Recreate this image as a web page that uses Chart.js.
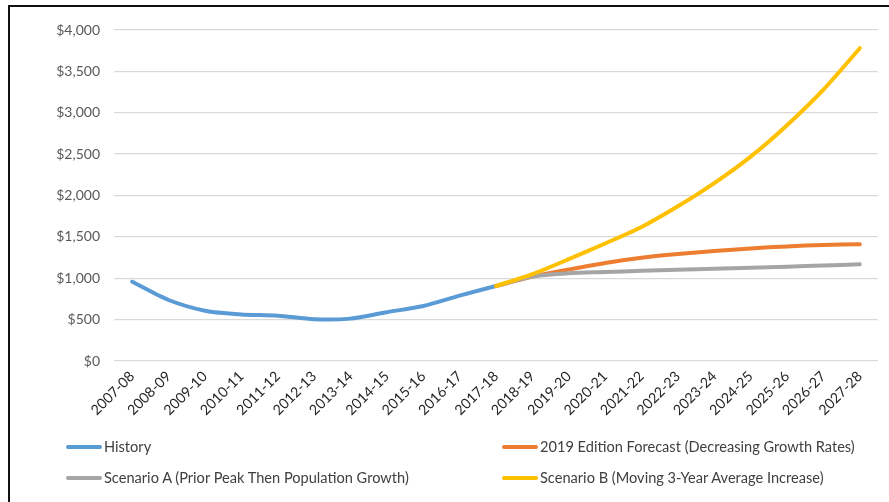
<!DOCTYPE html>
<html>
<head>
<meta charset="utf-8">
<script src="https://cdn.jsdelivr.net/npm/chart.js@4"></script>
<style>
  html, body { margin: 0; padding: 0; background: #fff; }
  #wrap { position: absolute; left: 0; top: 0; width: 889px; height: 502px; }
  .edge-top { position: absolute; left: 8px; top: 5px; width: 881px; height: 2px; background: #111; }
  .edge-left { position: absolute; left: 8px; top: 5px; width: 2px; height: 497px; background: #111; }
  #legend { position: absolute; left: 0; top: 0; width: 889px; height: 502px; pointer-events: none;
            font-family: Lato, "Open Sans", sans-serif; font-size: 14.6px; color: #404040; }
  #legend .item { position: absolute; white-space: nowrap; line-height: 16px; }
  #legend .swatch { display: inline-block; width: 36px; height: 4px; border-radius: 2px;
                    vertical-align: middle; margin-right: 2px; position: relative; top: -1px; }
</style>
</head>
<body>
<div id="wrap"><canvas id="chart"></canvas></div>
<div class="edge-top"></div>
<div class="edge-left"></div>
<div id="legend"></div>
<script>
/* Data */
const categories = ["2007-08", "2008-09", "2009-10", "2010-11", "2011-12", "2012-13", "2013-14",
    "2014-15", "2015-16", "2016-17", "2017-18", "2018-19", "2019-20", "2020-21", "2021-22",
    "2022-23", "2023-24", "2024-25", "2025-26", "2026-27", "2027-28"];

const history = [958, 737, 608, 563, 548, 505, 512, 590, 665, 790, 906,
    null, null, null, null, null, null, null, null, null, null];
const forecast2019 = [null, null, null, null, null, null, null, null, null, null, 906,
    1020, 1105, 1185, 1248, 1292, 1328, 1360, 1385, 1402, 1410];
const scenarioA = [null, null, null, null, null, null, null, null, null, null, 906,
    1020, 1060, 1075, 1090, 1102, 1116, 1128, 1140, 1155, 1168];
const scenarioB = [null, null, null, null, null, null, null, null, null, null, 906,
    1050, 1230, 1420, 1620, 1870, 2150, 2470, 2850, 3280, 3780];

const yTicks = [0, 500, 1000, 1500, 2000, 2500, 3000, 3500, 4000];

const seriesLabels = ["History", "2019 Edition Forecast (Decreasing Growth Rates)",
    "Scenario A (Prior Peak Then Population Growth)", "Scenario B (Moving 3-Year Average Increase)"];
const seriesColors = ["#5B9BD5", "#ED7D31", "#A5A5A5", "#FFC000"];

function makeLine(idx, data){
    return {
        label: seriesLabels[idx],
        data: data,
        borderColor: seriesColors[idx],
        backgroundColor: seriesColors[idx],
        borderWidth: 4,
        borderCapStyle: "round",
        borderJoinStyle: "round",
        pointRadius: 0,
        tension: 0.25,
        order: 3 - idx
    }
}

const FONT = "Lato, 'Open Sans', sans-serif";

const chart = new Chart(document.getElementById("chart"), {
    type: "line",
    data: {
        labels: categories,
        datasets: [
            makeLine(0, history),
            makeLine(1, forecast2019),
            makeLine(2, scenarioA),
            makeLine(3, scenarioB)
        ]
    },
    options: {
        responsive: true,
        maintainAspectRatio: false,
        animation: false,
        events: [],
        layout: {
            padding: { left: 14, right: 11, top: 30, bottom: 81 }
        },
        plugins: {
            legend: { display: false },
            tooltip: { enabled: false }
        },
        scales: {
            x: {
                offset: true,
                grid: { display: false, drawTicks: false },
                border: { display: false },
                ticks: {
                    autoSkip: false,
                    maxRotation: 45,
                    minRotation: 45,
                    padding: 7,
                    color: "#262626",
                    font: { family: FONT, size: 14.2 }
                },
                afterFit: function(s){ s.height = 60; }
            },
            y: {
                min: 0,
                max: 4000,
                afterBuildTicks: function(s){ s.ticks = yTicks.map(function(v){ return {value: v}; }); },
                grid: { color: "#D9D9D9", lineWidth: 1.3, drawTicks: false },
                border: { display: false },
                ticks: {
                    padding: 14,
                    color: "#595959",
                    font: { family: FONT, size: 14 },
                    callback: function(value){ return "$" + value.toLocaleString("en-US"); }
                },
                afterFit: function(s){ s.width = 100; }
            }
        }
    }
});

/* Legend: two columns, two rows */
const legendPos = [
    { left: 66, top: 439 },
    { left: 502, top: 439 },
    { left: 66, top: 470 },
    { left: 502, top: 470 }
];
const legend = document.getElementById("legend");
chart.data.datasets.forEach(function(ds, i){
    const item = document.createElement("div");
    item.className = "item";
    item.style.left = legendPos[i].left + "px";
    item.style.top = legendPos[i].top + "px";
    const sw = document.createElement("span");
    sw.className = "swatch";
    sw.style.background = ds.borderColor;
    item.appendChild(sw);
    item.appendChild(document.createTextNode(ds.label));
    legend.appendChild(item);
});
</script>
</body>
</html>
